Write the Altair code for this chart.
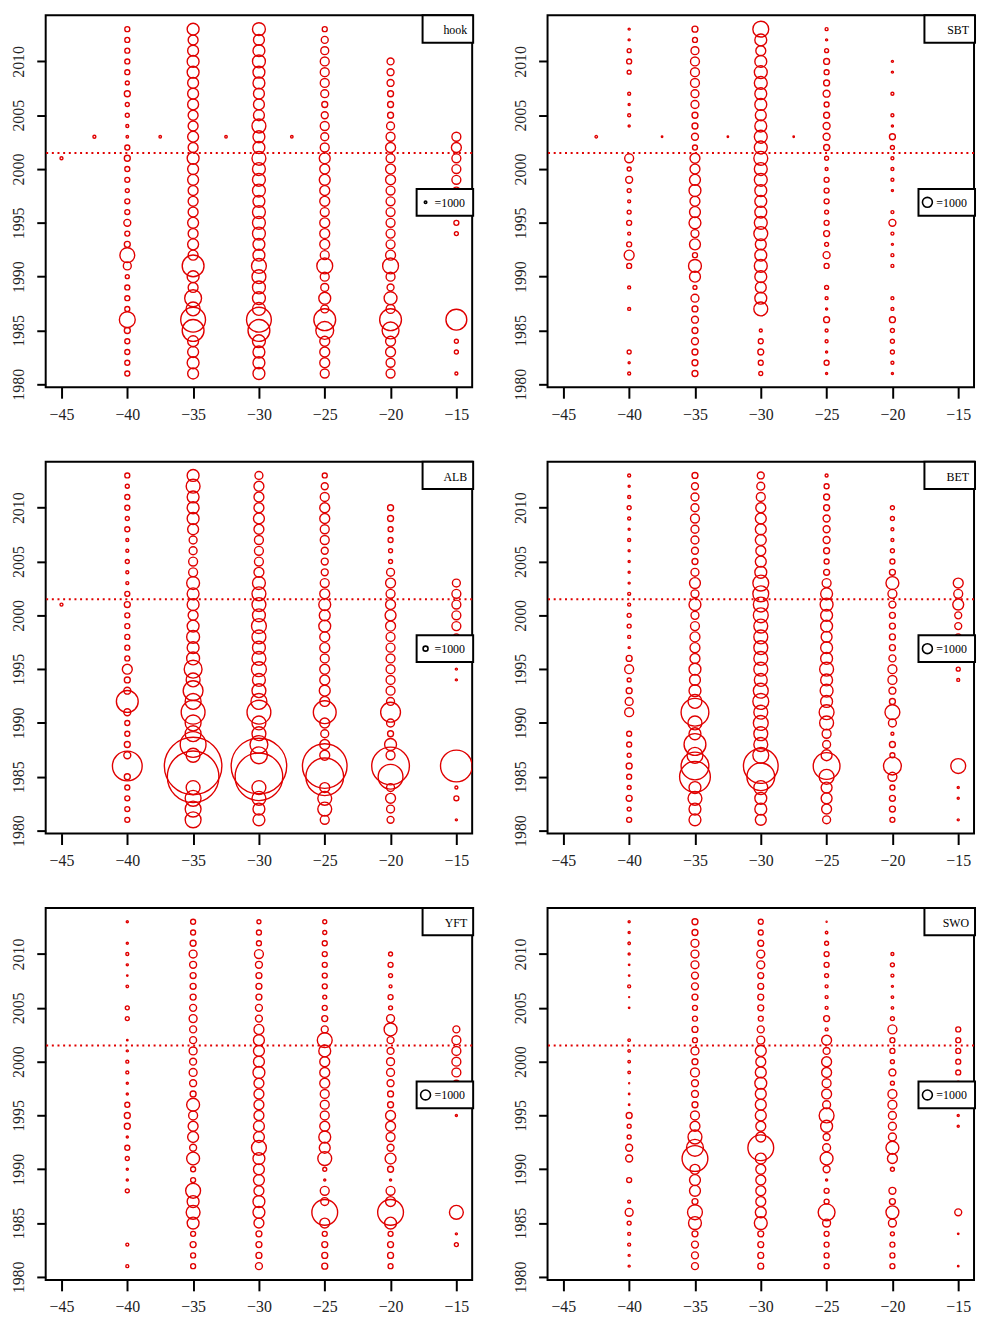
import altair as alt
import pandas as pd

N = None
YEARS = list(range(2013, 1980, -1))          # 2013 ... 1981
LATS = [-40, -35, -30, -25, -20, -15]
X_TICKS = [-45, -40, -35, -30, -25, -20, -15]
Y_TICKS = [1980, 1985, 1990, 1995, 2000, 2005, 2010]
X_DOMAIN = [-46.2, -13.8]
Y_DOMAIN = [1979.72, 2014.28]
REF_YEAR = 2001.5

# ---------------- hook ----------------
hook_m40 = [4000, 4000, 4000, 4000, 4000, 2560, 5760, 2560, 2560, 1440, 1000, 4000, 5760, 4000, 4000, 2560, 4000,
            4000, 7840, 4000, 5760, 36000, 10240, 2560, 4000, 4000, 4000, 40960, 5760, 4000, 4000, 4000, 4000]
hook_m35 = [23040, 16000, 19360, 23040, 23040, 19360, 19360, 19360, 16000, 16000, 19360, 16000, 23040, 19360, 19360,
            16000, 16000, 16000, 19360, 16000, 19360, 16000, 77440, 23040, 16000, 46240, 31360, 100000, 77440, 19360,
            19360, 23040, 19360]
hook_m30 = [27040, 19360, 23040, 27040, 23040, 23040, 19360, 19360, 19360, 31360, 23040, 23040, 31360, 27040, 27040,
            27040, 23040, 27040, 27040, 27040, 23040, 23040, 36000, 31360, 27040, 27040, 27040, 100000, 77440, 27040,
            23040, 23040, 23040]
hook_m25 = [4000, 7840, 10240, 12960, 12960, 12960, 10240, 5760, 7840, 12960, 10240, 12960, 19360, 16000, 19360, 16000,
            16000, 12960, 16000, 16000, 16000, 12960, 40960, 12960, 10240, 23040, 10240, 77440, 51840, 16000, 16000,
            16000, 12960]
hook_m20 = [N, N, N, 7840, 7840, 7840, 5760, 5760, 5760, 10240, 12960, 16000, 12960, 16000, 16000, 12960, 12960, 12960,
            12960, 12960, 12960, 16000, 40960, 12960, 7840, 27040, 12960, 77440, 46240, 16000, 16000, 12960, 12960]
hook_m15 = [N, N, N, N, N, N, N, N, N, N, 12960, 16000, 12960, 12960, 12960, 7840, 5760, 4000, 4000, 2560,
            N, N, N, N, N, N, N, 70560, N, 2560, 2560, N, 1440]
hook_extra_lat = [-45, -42.5, -37.5, -32.5, -27.5]
hook_extra_year = [2001, 2003, 2003, 2003, 2003]
hook_extra_v = [1440, 1440, 1000, 1000, 1000]

# ---------------- SBT ----------------
sbt_m40 = [40, 40, 160, 250, 160, N, 90, 40, 90, 40, N, N, 810, 160, 490, 160, 90, 160, 250, 90, 250, 1000, 250, N,
           90, N, 90, N, N, N, 160, 40, 90]
sbt_m35 = [360, 250, 640, 810, 810, 810, 640, 640, 360, 360, 490, 250, 1000, 1000, 1210, 1440, 1000, 1210, 1440, 640,
           1210, 250, 1690, 1210, 160, 640, 360, 490, 360, 490, 360, 360, 360]
sbt_m30 = [2560, 1440, 1000, 1440, 1690, 1690, 1440, 1440, 1210, 1440, 1690, 1690, 1960, 1690, 1690, 1440, 1440, 1440,
           1690, 1960, 1210, 1440, 1690, 1440, 1210, 1440, 1960, N, 90, 250, 360, 250, 160]
sbt_m25 = [90, 40, 160, 360, 250, 360, 490, 250, 360, 490, 490, 360, 160, 90, 250, 250, 250, 160, 250, 360, 160, 490,
           250, N, 160, 90, 40, 360, 90, 90, 40, 250, 40]
sbt_m20 = [N, N, N, 40, 40, N, 90, N, 90, 40, 360, 160, 90, 90, 90, 40, N, 90, 490, 90, 40, 90, 90, N, N, 90, 90, 360,
           160, 160, 160, 90, 40]
sbt_m15 = [N] * 33
sbt_extra_lat = [-42.5, -37.5, -32.5, -27.5]
sbt_extra_year = [2003, 2003, 2003, 2003]
sbt_extra_v = [62, 22, 22, 22]

# ---------------- ALB ----------------
alb_m40 = [1000, 640, 1000, 1000, 640, 1000, 360, 360, 640, 360, 360, 1000, 1440, 1000, 1000, 1000, 1000, 1000, 4000,
           1440, 1960, 19360, 1960, 1000, 1000, 1440, 1960, 36000, 1440, 1000, 1000, 1000, 1000]
alb_m35 = [5760, 7840, 5760, 5760, 5760, 4840, 2560, 2560, 3240, 3240, 6760, 5760, 5760, 4000, 5760, 6760, 5760, 6760,
           12960, 7840, 16000, 10240, 23040, 10240, 10240, 27040, 7840, 134560, 108160, 7840, 10240, 10240, 10240]
alb_m30 = [2560, 4000, 4000, 4000, 4840, 4000, 3240, 3240, 3240, 4000, 6760, 7840, 7840, 6760, 9000, 7840, 6760, 7840,
           9000, 6760, 7840, 10240, 23040, 7840, 7840, 12960, 11560, 125440, 92160, 7840, 7840, 5760, 5760]
alb_m25 = [1000, 1960, 3240, 4000, 4000, 3240, 3240, 1960, 1960, 1960, 3240, 4000, 5760, 4840, 5760, 4000, 4000, 3240,
           4000, 4000, 4840, 4000, 21160, 4000, 2560, 4000, 4000, 81000, 57760, 4000, 7840, 7840, 3240]
alb_m20 = [N, N, N, 1440, 1440, 1000, 1000, 640, 640, 2560, 4000, 3240, 4000, 4840, 4000, 3240, 3240, 3240, 3240, 3240,
           3240, 2560, 16000, 2560, 1440, 5760, 3240, 57760, 25000, 2560, 4000, 2560, 1960]
alb_m15 = [N, N, N, N, N, N, N, N, N, N, 2560, 3240, 3240, 3240, 3240, 1440, 640, 360, 160, 160,
           N, N, N, N, N, N, N, 40960, N, 360, 1000, N, 160]
alb_extra_lat = [-45]
alb_extra_year = [2001]
alb_extra_v = [360]

# ---------------- BET ----------------
bet_m40 = [90, 40, 90, 160, 90, 40, 90, 40, 40, 40, 40, 90, 90, 160, 160, 90, 40, 360, 810, 160, 360, 640, 810, N,
           250, 250, 160, 360, 250, 160, 360, 160, 250]
bet_m35 = [360, 490, 640, 640, 810, 640, 640, 490, 360, 640, 1210, 640, 1440, 640, 810, 1000, 1000, 1000, 1440, 1210,
           1440, 1960, 7840, 1960, 1440, 4840, 2560, 7840, 9610, 1440, 1960, 1440, 1440]
bet_m30 = [490, 640, 810, 1000, 1210, 1210, 1210, 1000, 1210, 1440, 2560, 2560, 2250, 2250, 1960, 1960, 1960, 1960,
           1960, 1690, 2250, 2560, 1960, 2250, 1960, 1960, 2560, 12250, 7840, 1960, 1440, 1440, 1210]
bet_m25 = [90, 250, 360, 360, 490, 490, 490, 360, 250, 360, 810, 1440, 1690, 1440, 1440, 1210, 1440, 1440, 1960, 1440,
           1690, 1440, 2250, 1960, 810, 640, 1210, 7290, 2250, 1210, 1210, 1000, 640]
bet_m20 = [N, N, N, 160, 160, 90, 90, 160, 250, 360, 1690, 810, 490, 360, 360, 360, 360, 490, 810, 810, 490, 360, 2250,
           640, 90, 360, 250, 3240, 810, 250, 360, 360, 250]
bet_m15 = [N, N, N, N, N, N, N, N, N, N, 1000, 810, 1210, 490, 490, 360, 250, 160, 160, 90,
           N, N, N, N, N, N, N, 2250, N, 40, 40, N, 40]

# ---------------- YFT ----------------
yft_m40 = [40, N, 40, 90, 40, 22, 62, N, 160, 160, N, 22, 40, 90, 90, 40, 40, 250, 360, 360, 40, 250, 160, 40, 40, 160,
           N, N, N, N, 90, N, 90]
yft_m35 = [250, 250, 360, 640, 490, 360, 360, 360, 490, 640, 490, 490, 640, 490, 640, 490, 360, 1690, 810, 1000, 1210,
           490, 1690, 250, 250, 2250, 1440, 1960, 1440, 250, 360, 250, 250]
yft_m30 = [160, 250, 250, 810, 490, 360, 360, 360, 490, 490, 1000, 1210, 1210, 1210, 1440, 1000, 1000, 1000, 1000, 1210,
           1210, 2250, 1440, 1210, 1210, 1000, 1440, 1440, 1000, 360, 360, 360, 490]
yft_m25 = [160, 160, 250, 250, 250, 250, 250, 160, 250, 360, 490, 2250, 1440, 1000, 1000, 1000, 810, 810, 810, 1000,
           1440, 1210, 1960, 160, 40, 810, 640, 6760, 1000, 250, 360, 360, 360]
yft_m20 = [N, N, N, 160, 250, 160, 90, 250, 160, 640, 1690, 490, 490, 640, 640, 490, 360, 360, 1000, 1000, 810, 490,
           1210, 360, 40, 810, 1000, 6760, 1440, 250, 360, 360, 250]
yft_m15 = [N, N, N, N, N, N, N, N, N, N, 490, 810, 810, 810, 810, 360, 160, 90, 40, N,
           N, N, N, N, N, N, N, 1960, N, 40, 160, N, N]

# ---------------- SWO ----------------
swo_m40 = [40, 40, 62, 40, 22, 22, 90, 10, 22, N, N, 62, 62, 62, 62, 10, 22, 22, 360, 160, 160, 490, 490, N, 250, N,
           90, 640, 160, 90, 90, 40, 40]
swo_m35 = [360, 360, 640, 640, 640, 490, 490, 360, 250, 250, 360, 250, 640, 360, 810, 490, 490, 360, 810, 1000, 1960,
           2890, 6760, 1000, 1210, 1210, 360, 2250, 1690, 360, 490, 490, 490]
swo_m30 = [250, 250, 360, 640, 640, 360, 360, 360, 360, 250, 490, 640, 1210, 1000, 1210, 1440, 1210, 1210, 1210, 1000,
           1000, 6760, 1210, 1000, 1000, 1000, 1000, 1210, 1690, 360, 360, 360, 360]
swo_m25 = [10, 62, 160, 250, 250, 160, 90, 90, 90, 360, 90, 1000, 490, 1000, 1000, 810, 1000, 640, 2250, 1440, 490,
           640, 1690, 490, 40, 250, 250, 2890, 640, 250, 250, 250, 250]
swo_m20 = [N, N, N, 90, 160, 90, 40, 62, 62, 160, 810, 250, 250, 160, 490, 160, 810, 810, 640, 640, 640, 1690, 1000,
           160, N, 490, 360, 1690, 640, 160, 250, 250, 250]
swo_m15 = [N, N, N, N, N, N, N, N, N, N, 250, 250, 250, 250, 250, 160, 90, 40, 40, 40,
           N, N, N, N, N, N, N, 490, N, 22, N, N, 22]

PANELS = [
    ("hook", [hook_m40, hook_m35, hook_m30, hook_m25, hook_m20, hook_m15],
     (hook_extra_lat, hook_extra_year, hook_extra_v), 2.5),
    ("SBT", [sbt_m40, sbt_m35, sbt_m30, sbt_m25, sbt_m20, sbt_m15],
     (sbt_extra_lat, sbt_extra_year, sbt_extra_v), 10),
    ("ALB", [alb_m40, alb_m35, alb_m30, alb_m25, alb_m20, alb_m15],
     (alb_extra_lat, alb_extra_year, alb_extra_v), 5),
    ("BET", [bet_m40, bet_m35, bet_m30, bet_m25, bet_m20, bet_m15], ([], [], []), 10),
    ("YFT", [yft_m40, yft_m35, yft_m30, yft_m25, yft_m20, yft_m15], ([], [], []), 10),
    ("SWO", [swo_m40, swo_m35, swo_m30, swo_m25, swo_m20, swo_m15], ([], [], []), 10),
]

RED = "#e00000"
FONT = "Liberation Serif"
W, H = 430, 375


def make_panel(name, cols, extras, legend_d):
    rows = []
    for lat, vals in zip(LATS, cols):
        for yr, v in zip(YEARS, vals):
            if v is not None:
                rows.append({"lat": lat, "year": yr, "v": v})
    for lat, yr, v in zip(*extras):
        rows.append({"lat": lat, "year": yr, "v": v})
    df = pd.DataFrame(rows)

    size_scale = alt.Scale(type="linear", domain=[0, 1000], range=[0, legend_d * legend_d])
    x_enc = alt.X("lat:Q", title=None,
                  scale=alt.Scale(domain=X_DOMAIN, nice=False, zero=False),
                  axis=alt.Axis(values=X_TICKS, orient="bottom", tickSize=11, labelPadding=8,
                                labelFontSize=16, labelBaseline="top"))
    y_enc = alt.Y("year:Q", title=None,
                  scale=alt.Scale(domain=Y_DOMAIN, nice=False, zero=False),
                  axis=alt.Axis(values=Y_TICKS, format="d", orient="left", tickSize=9, labelPadding=13,
                                labelAngle=270, labelAlign="center", labelBaseline="alphabetic",
                                labelFontSize=16))

    circles = alt.Chart(df).mark_point(
        shape="circle", filled=False, color=RED, strokeWidth=1.4, opacity=1, clip=True
    ).encode(x=x_enc, y=y_enc, size=alt.Size("v:Q", scale=size_scale, legend=None))

    one = pd.DataFrame({"v": [1000]})
    ref = alt.Chart(one).mark_rule(color=RED, strokeWidth=2, strokeDash=[2, 3.7]).encode(
        y=alt.datum(REF_YEAR))

    tag_box = alt.Chart(one).mark_rect(fill="white", stroke="black", strokeWidth=2).encode(
        x=alt.value(380), x2=alt.value(W + 1), y=alt.value(0), y2=alt.value(27.5))
    tag_txt = alt.Chart(one).mark_text(font=FONT, fontSize=12, align="right", baseline="middle",
                                       color="black").encode(
        x=alt.value(W - 5), y=alt.value(15), text=alt.value(name))

    leg_box = alt.Chart(one).mark_rect(fill="white", stroke="black", strokeWidth=2).encode(
        x=alt.value(374), x2=alt.value(W + 1), y=alt.value(175), y2=alt.value(202))
    leg_pt = alt.Chart(one).mark_point(shape="circle", filled=False, color="black", strokeWidth=1.6,
                                       opacity=1).encode(
        x=alt.value(383), y=alt.value(188.5),
        size=alt.Size("v:Q", scale=size_scale, legend=None))
    leg_txt = alt.Chart(one).mark_text(font=FONT, fontSize=12, align="left", baseline="middle",
                                       color="black").encode(
        x=alt.value(392), y=alt.value(189), text=alt.value("=1000"))

    return alt.layer(circles, ref, tag_box, tag_txt, leg_box, leg_pt, leg_txt).properties(
        width=W, height=H)


panels = [make_panel(*p) for p in PANELS]

chart = alt.concat(*panels, columns=2, spacing={"row": 75, "column": 76}, bounds="flush").resolve_scale(
    x="independent", y="independent", size="independent"
).properties(
    padding={"left": 2, "top": 0, "right": 0, "bottom": 0},
    background="white"
).configure_view(
    stroke="black", strokeWidth=2
).configure_axis(
    grid=False, domain=False, tickColor="black", tickWidth=2, labelColor="#222222",
    labelFont=FONT
)

chart.save("out.html", embed_options={"renderer": "svg", "actions": False})
